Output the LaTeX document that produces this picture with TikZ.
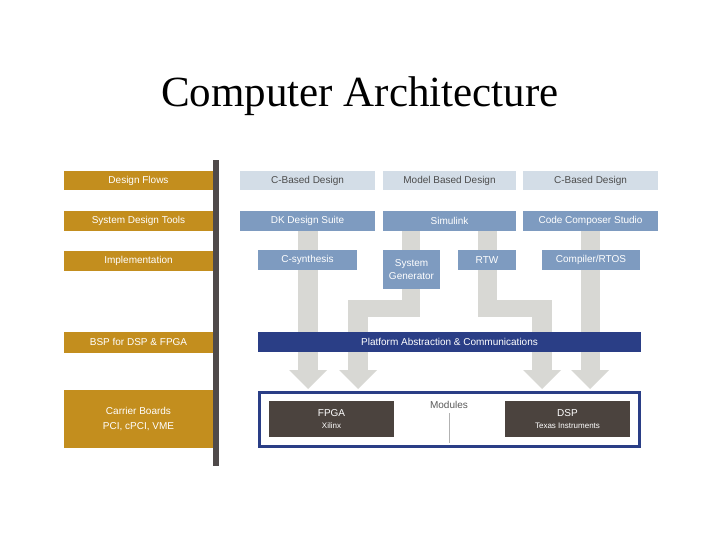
\documentclass[tikz,border=0pt]{standalone}
\usepackage{fontspec}
\setmainfont{Liberation Sans}
\newfontfamily\titlefont{Liberation Serif}
\definecolor{gold}{HTML}{C38E1E}
\definecolor{lblue}{HTML}{D3DDE7}
\definecolor{mblue}{HTML}{7E9BC0}
\definecolor{navy}{HTML}{2A3E86}
\definecolor{agrey}{HTML}{D8D8D4}
\definecolor{dbrown}{HTML}{4B433E}
\definecolor{bar}{HTML}{4F4A4A}
\begin{document}
\begin{tikzpicture}[x=1pt,y=-1pt,
  box/.style={inner sep=0pt,font=\fontsize{10}{11.5}\selectfont,align=center},
  lbox/.style={box,fill=gold,text=white,minimum width=149pt},
  d1/.style={box,fill=lblue,text=black!70,minimum height=19pt},
  d2/.style={box,fill=mblue,text=white,minimum height=20pt},
  head/.style={fill=agrey}]
\useasboundingbox (0,0) rectangle (720,540);
\node[font=\titlefont\fontsize{43}{50}\selectfont] (title) at (360,96) {Computer Architecture};
% grey flows (behind)
\fill[agrey] (298,231) rectangle (318,372);
\fill[agrey] (402,231) rectangle (420,317);
\fill[agrey] (348,300) rectangle (420,317);
\fill[agrey] (348,300) rectangle (368,372);
\fill[agrey] (478,231) rectangle (497,317);
\fill[agrey] (478,300) rectangle (552,317);
\fill[agrey] (532,300) rectangle (552,372);
\fill[agrey] (581,231) rectangle (600,372);
\foreach \c in {308,358,542,590}{
  \fill[agrey] (\c-19,370) -- (\c+19,370) -- (\c,389) -- cycle;}
% left column
\node[lbox,minimum height=19pt] (df) at (138.5,181) {Design Flows};
\node[lbox,minimum height=20pt] (sdt) at (138.5,221) {System Design Tools};
\node[lbox,minimum height=20pt] (imp) at (138.5,261) {Implementation};
\node[lbox,minimum height=21pt] (bsp) at (138.5,342) {BSP for DSP \& FPGA};
\node[lbox,minimum height=58pt] (cb) at (138.5,419) {Carrier Boards\\[3pt]PCI, cPCI, VME};
\fill[bar] (213,160) rectangle (219,466);
% row1
\node[d1,minimum width=135pt] (c1) at (307.5,181) {C-Based Design};
\node[d1,minimum width=133pt] (mb) at (449.5,181) {Model Based Design};
\node[d1,minimum width=135pt] (c2) at (590.5,181) {C-Based Design};
% row2
\node[d2,minimum width=135pt] (dk) at (307.5,221) {DK Design Suite};
\node[d2,minimum width=133pt] (sim) at (449.5,221) {Simulink};
\node[d2,minimum width=135pt] (ccs) at (590.5,221) {Code Composer Studio};
% row3
\node[d2,minimum width=99pt] (cs) at (307.5,260) {C-synthesis};
\node[d2,minimum width=57pt,minimum height=39pt] (sg) at (411.5,269.5) {System\\[2pt]Generator};
\node[d2,minimum width=58pt] (rtw) at (487,260) {RTW};
\node[d2,minimum width=98pt] (comp) at (591,260) {Compiler/RTOS};
% platform
\node[box,fill=navy,text=white,minimum width=383pt,minimum height=20pt] (pac) at (449.5,342) {Platform Abstraction \& Communications};
% modules
\node[draw=navy,line width=3pt,minimum width=380pt,minimum height=54pt,inner sep=0pt] (mod) at (449.5,419) {};
\node[box,text=black!65] (ml) at (449,405) {Modules};
\draw[black!30,line width=0.8pt] (449,413) -- (449,443);
\node[box,fill=dbrown,text=white,minimum width=125pt,minimum height=36pt] (fpga) at (331.5,419) {FPGA\\[1pt]{\fontsize{8}{9}\selectfont Xilinx}};
\node[box,fill=dbrown,text=white,minimum width=125pt,minimum height=36pt] (dsp) at (567.5,419) {DSP\\[1pt]{\fontsize{8}{9}\selectfont Texas Instruments}};
\end{tikzpicture}
\end{document}
